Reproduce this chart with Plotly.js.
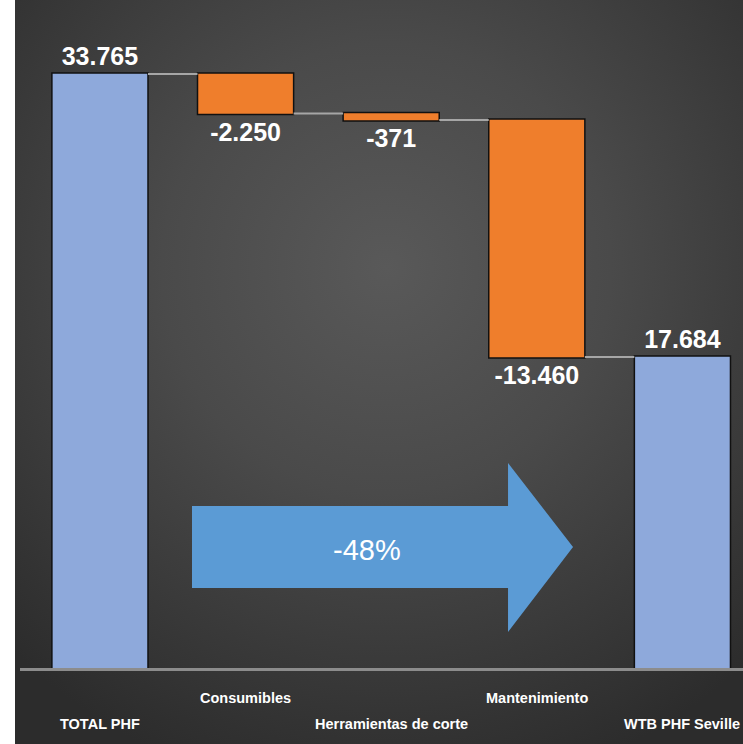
<!DOCTYPE html>
<html>
<head>
<meta charset="utf-8">
<script src="https://cdn.plot.ly/plotly-3.0.1.min.js"></script>
<style>
  html, body { margin: 0; padding: 0; background: #ffffff; }
  #wrap { position: relative; width: 743px; height: 744px; overflow: hidden;
    background: radial-gradient(ellipse 72% 72% at 52% 36%, #595959 0%, #4a4a4a 42%, #2c2c2c 100%); }
  #strip { position: absolute; left: 0; top: 0; width: 15px; height: 744px; background: #ffffff; z-index: 5; }
  #chart { position: absolute; left: 0; top: 0; width: 743px; height: 744px; }
</style>
</head>
<body>
<div id="wrap"><div id="strip"></div><div id="chart"></div></div>
<script>
// Data
const categories = ["TOTAL PHF", "Consumibles", "Herramientas de corte", "Mantenimiento", "WTB PHF Seville"];
const values = [33765, -2250, -371, -13460, 17684];
const measures = ["absolute", "relative", "relative", "relative", "total"];
const labelRow = [1, 0, 1, 0, 1]; // staggered category labels (0 = upper row, 1 = lower row)
const changeLabel = "-48%";

function fmt(v) {
  const s = Math.abs(v).toString().replace(/\B(?=(\d{3})+(?!\d))/g, ".");
  return (v < 0 ? "-" : "") + s;
}

const xIdx = categories.map((c, i) => i);
const labelFont = "'Liberation Sans', Arial, sans-serif";

const trace = {
  type: "waterfall",
  x: xIdx,
  y: values.map((v, i) => measures[i] === "total" ? 0 : v),
  measure: measures,
  text: values.map(fmt),
  textposition: "outside",
  textfont: { family: labelFont, size: 25, color: "#ffffff", weight: "bold" },
  cliponaxis: false,
  totals: { marker: { color: "#8EA9DB", line: { color: "#111111", width: 1.5 } } },
  increasing: { marker: { color: "#8EA9DB", line: { color: "#111111", width: 1.5 } } },
  decreasing: { marker: { color: "#EF7E2C", line: { color: "#111111", width: 1.5 } } },
  connector: { mode: "between", line: { color: "#A6A6A6", width: 2 } },
  hoverinfo: "skip"
};

const annotations = categories.map((c, i) => ({
  x: i, xref: "x", y: 0, yref: "y",
  text: c, showarrow: false,
  yanchor: "middle", xanchor: "center",
  yshift: labelRow[i] ? -56 : -30,
  font: { family: labelFont, size: 14.5, color: "#ffffff", weight: "bold" }
}));

// arrow decoration (paper coords)
const L = 20, W = 723, H = 668;
const px = x => (x - L) / W;
const py = y => (H - y) / H;
const pts = [[192,506],[508,506],[508,463],[573,547],[508,632],[508,588],[192,588]];
const path = "M " + pts.map(p => px(p[0]).toFixed(4) + "," + py(p[1]).toFixed(4)).join(" L ") + " Z";

annotations.push({
  x: px(367), y: py(550), xref: "paper", yref: "paper",
  text: changeLabel, showarrow: false, xanchor: "center", yanchor: "middle",
  font: { family: labelFont, size: 29, color: "#ffffff" }
});

const layout = {
  width: 743, height: 744,
  margin: { l: L, r: 0, t: 0, b: 76, pad: 0 },
  paper_bgcolor: "rgba(0,0,0,0)",
  plot_bgcolor: "rgba(0,0,0,0)",
  showlegend: false,
  waterfallgap: 0.34,
  xaxis: {
    range: [-0.549, 4.416], showticklabels: false, ticks: "",
    showgrid: false, zeroline: false, showline: true,
    linecolor: "#8C8C8C", linewidth: 3, fixedrange: true
  },
  yaxis: {
    range: [0, 37972], showticklabels: false, ticks: "",
    showgrid: false, zeroline: false, showline: false, fixedrange: true
  },
  shapes: [{
    type: "path", xref: "paper", yref: "paper", path: path,
    fillcolor: "#5B9BD5", line: { width: 0 }, layer: "below"
  }],
  annotations: annotations
};

Plotly.newPlot("chart", [trace], layout, { displayModeBar: false, staticPlot: true });
</script>
</body>
</html>
